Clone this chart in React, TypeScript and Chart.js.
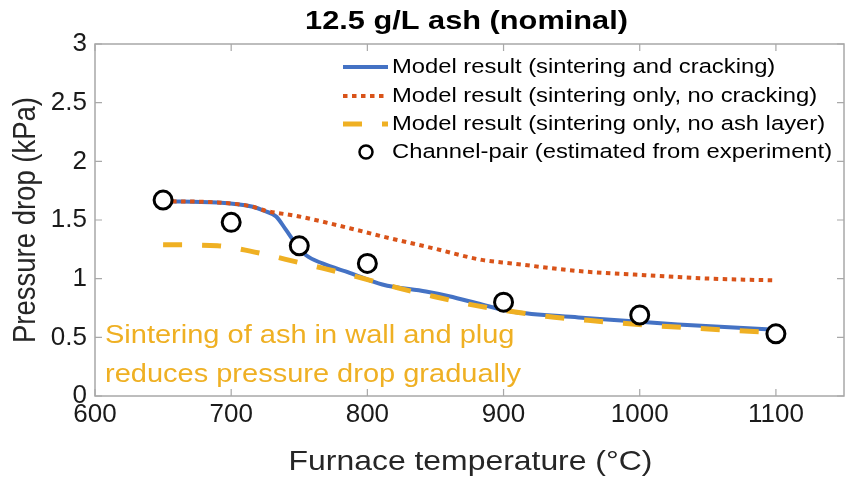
import React, { useEffect, useRef } from "react";
import { Chart, registerables } from "chart.js";

Chart.register(...registerables);

// ---- data ----
const titleText = "12.5 g/L ash (nominal)";
const xAxisTitle = "Furnace temperature (°C)";
const yAxisTitle = "Pressure drop (kPa)";
const xTicks = [600, 700, 800, 900, 1000, 1100];
const yTicks = [0, 0.5, 1, 1.5, 2, 2.5, 3];

const seriesNames = [
  "Model result (sintering and cracking)",
  "Model result (sintering only, no cracking)",
  "Model result (sintering only, no ash layer)",
  "Channel-pair (estimated from experiment)",
];

const crackTemps = [650, 690, 715, 725, 733, 740, 748, 755, 767, 787, 811, 843, 860, 884, 906, 955, 992, 1028, 1100];
const crackValues = [1.66, 1.65, 1.615, 1.575, 1.53, 1.42, 1.29, 1.2, 1.13, 1.05, 0.95, 0.89, 0.85, 0.78, 0.72, 0.67, 0.64, 0.61, 0.565];

const noCrackTemps = [650, 690, 715, 725, 750, 787, 811, 848, 884, 906, 955, 1004, 1052, 1100];
const noCrackValues = [1.66, 1.65, 1.615, 1.58, 1.53, 1.43, 1.36, 1.26, 1.16, 1.13, 1.065, 1.03, 1.0, 0.985];

const noAshTemps = [650, 690, 714, 740, 767, 796, 823, 848, 880, 931, 962, 1004, 1072, 1100];
const noAshValues = [1.29, 1.28, 1.235, 1.165, 1.09, 1.005, 0.92, 0.85, 0.77, 0.68, 0.645, 0.605, 0.557, 0.54];

const expTemps = [650, 700, 750, 800, 900, 1000, 1100];
const expValues = [1.67, 1.48, 1.28, 1.13, 0.8, 0.69, 0.53];

const noteLines = ["Sintering of ash in wall and plug", "reduces pressure drop gradually"];

// ---- styles ----
const BLUE = "#4472C4";
const RED = "#D95319";
const ORANGE = "#EFB023";
const FONT = "'Liberation Sans', Arial, sans-serif";
const SX = 1.16;

const pts = (xs: number[], ys: number[]) => xs.map((x, i) => ({ x, y: ys[i] }));

function stretchText(ctx: CanvasRenderingContext2D, text: string, x: number, y: number, align: CanvasTextAlign, font: string, color: string, rotate = false) {
  ctx.save();
  ctx.translate(x, y);
  if (rotate) {
    ctx.rotate(-Math.PI / 2);
    ctx.scale(1, SX);
  } else {
    ctx.scale(SX, 1);
  }
  ctx.font = font;
  ctx.fillStyle = color;
  ctx.textAlign = align;
  ctx.textBaseline = "middle";
  ctx.fillText(text, 0, 0);
  ctx.restore();
}

const decorPlugin = {
  id: "decor",
  beforeDatasetsDraw(chart: any) {
    const { ctx, chartArea: a, scales } = chart;
    ctx.save();
    ctx.strokeStyle = "#a8a8a8";
    ctx.lineWidth = 1.5;
    ctx.strokeRect(a.left, a.top, a.right - a.left, a.bottom - a.top);
    ctx.lineWidth = 1.2;
    ctx.beginPath();
    xTicks.forEach((t) => {
      const px = scales.x.getPixelForValue(t);
      ctx.moveTo(px, a.bottom);
      ctx.lineTo(px, a.bottom - 7);
      ctx.moveTo(px, a.top);
      ctx.lineTo(px, a.top + 7);
    });
    yTicks.forEach((t) => {
      const py = scales.y.getPixelForValue(t);
      ctx.moveTo(a.left, py);
      ctx.lineTo(a.left + 7, py);
      ctx.moveTo(a.right, py);
      ctx.lineTo(a.right - 7, py);
    });
    ctx.stroke();
    ctx.restore();
  },
  afterDraw(chart: any) {
    const { ctx, chartArea: a } = chart;
    const cx = (a.left + a.right) / 2;
    // title
    stretchText(ctx, titleText, cx - 3, 22, "center", `bold 26.5px ${FONT}`, "#000");
    // axis titles
    stretchText(ctx, xAxisTitle, cx + 1, 462, "center", `27.5px ${FONT}`, "#262626");
    stretchText(ctx, yAxisTitle, 26, (a.top + a.bottom) / 2, "center", `27.5px ${FONT}`, "#262626", true);

    // legend
    const lx0 = 343, lx1 = 388, tx = 392;
    const rows = [67, 96, 124, 152];
    ctx.save();
    ctx.lineCap = "butt";
    ctx.strokeStyle = BLUE; ctx.lineWidth = 4; ctx.setLineDash([]);
    ctx.beginPath(); ctx.moveTo(lx0, rows[0]); ctx.lineTo(lx1, rows[0]); ctx.stroke();
    ctx.strokeStyle = RED; ctx.lineWidth = 4; ctx.setLineDash([4.5, 4.5]);
    ctx.beginPath(); ctx.moveTo(lx0, rows[1]); ctx.lineTo(lx1, rows[1]); ctx.stroke();
    ctx.strokeStyle = ORANGE; ctx.lineWidth = 5; ctx.setLineDash([19, 20]);
    ctx.beginPath(); ctx.moveTo(lx0, rows[2]); ctx.lineTo(lx1, rows[2]); ctx.stroke();
    ctx.setLineDash([]);
    ctx.strokeStyle = "#000"; ctx.lineWidth = 2.5; ctx.fillStyle = "#fff";
    ctx.beginPath(); ctx.arc(366, rows[3], 6.5, 0, Math.PI * 2); ctx.fill(); ctx.stroke();
    ctx.restore();
    seriesNames.forEach((n, i) => stretchText(ctx, n, tx, rows[i], "left", `20.5px ${FONT}`, "#000"));

    // annotation
    stretchText(ctx, noteLines[0], 105, 336, "left", `25px ${FONT}`, ORANGE);
    stretchText(ctx, noteLines[1], 105, 375, "left", `25px ${FONT}`, ORANGE);
  },
};

export default function App() {
  const ref = useRef<HTMLCanvasElement | null>(null);
  useEffect(() => {
    if (!ref.current) return;
    const chart = new Chart(ref.current, {
      type: "line",
      data: {
        datasets: [
          {
            label: seriesNames[3],
            data: pts(expTemps, expValues),
            showLine: false,
            pointStyle: "circle",
            pointRadius: 9,
            pointBorderWidth: 3,
            pointBackgroundColor: "#fff",
            pointBorderColor: "#000",
            borderColor: "#000",
            order: 0,
          },
          {
            label: seriesNames[2],
            data: pts(noAshTemps, noAshValues),
            borderColor: ORANGE,
            borderWidth: 5,
            borderDash: [19, 20],
            pointRadius: 0,
            cubicInterpolationMode: "monotone",
            order: 1,
          },
          {
            label: seriesNames[1],
            data: pts(noCrackTemps, noCrackValues),
            borderColor: RED,
            borderWidth: 4,
            borderDash: [4.5, 4.5],
            pointRadius: 0,
            cubicInterpolationMode: "monotone",
            order: 2,
          },
          {
            label: seriesNames[0],
            data: pts(crackTemps, crackValues),
            borderColor: BLUE,
            borderWidth: 4,
            pointRadius: 0,
            cubicInterpolationMode: "monotone",
            order: 3,
          },
        ],
      },
      options: {
        responsive: false,
        animation: false,
        layout: { autoPadding: false, padding: { top: 44, right: 5, left: 0, bottom: 0 } },
        plugins: { legend: { display: false }, title: { display: false }, tooltip: { enabled: false } },
        scales: {
          x: {
            type: "linear",
            min: 600,
            max: 1150,
            afterBuildTicks: (s: any) => { s.ticks = xTicks.map((v) => ({ value: v })); },
            grid: { display: false, drawTicks: false },
            border: { display: false },
            ticks: { font: { size: 26, family: FONT }, color: "#1a1a1a", padding: 3, maxRotation: 0, callback: (v: any) => String(v) },
            afterFit: (s: any) => { s.height = 86; s.paddingRight = 0; s.paddingLeft = 0; },
          },
          y: {
            type: "linear",
            min: 0,
            max: 3,
            afterBuildTicks: (s: any) => { s.ticks = yTicks.map((v) => ({ value: v })); },
            grid: { display: false, drawTicks: false },
            border: { display: false },
            ticks: { font: { size: 26, family: FONT }, color: "#1a1a1a", padding: 8, callback: (v: any) => String(v) },
            afterFit: (s: any) => { s.width = 95; s.paddingTop = 0; s.paddingBottom = 0; },
          },
        },
      },
      plugins: [decorPlugin],
    });
    return () => chart.destroy();
  }, []);
  return (
    <div style={{ position: "absolute", left: 0, top: 0, width: 849, height: 482, background: "#fff" }}>
      <canvas ref={ref} width={849} height={482} style={{ display: "block" }} />
    </div>
  );
}
